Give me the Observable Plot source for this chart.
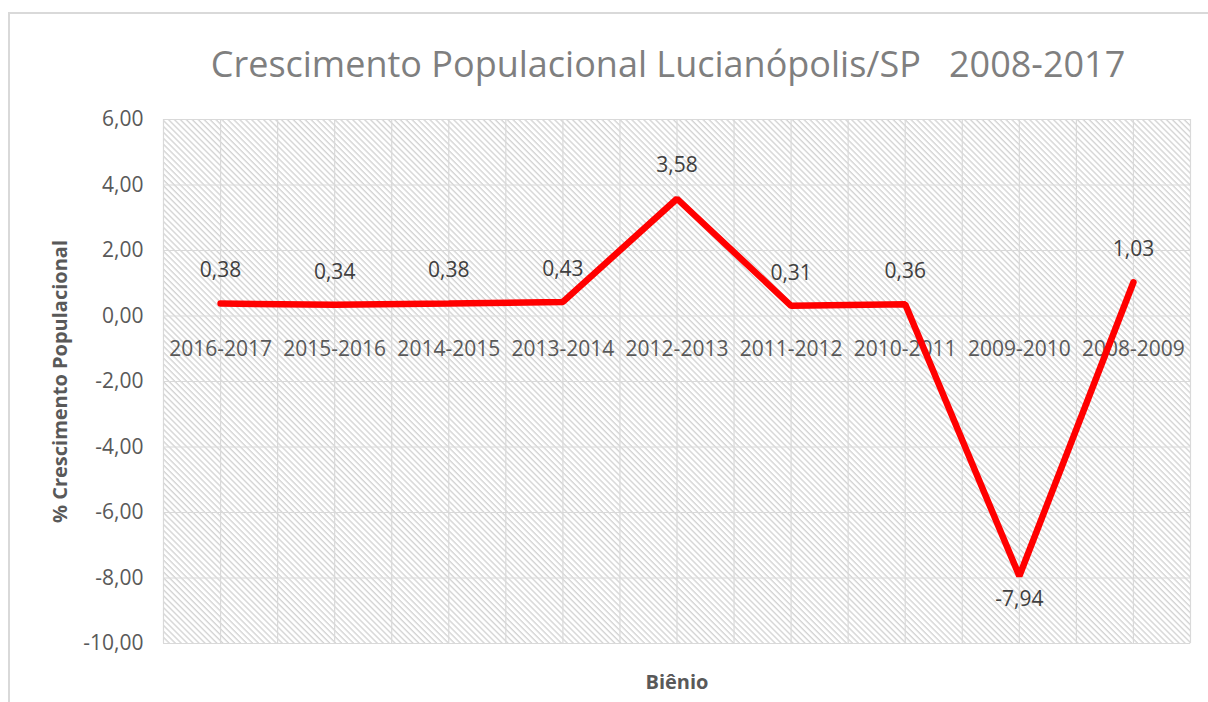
<!DOCTYPE html>
<html>
<head>
<meta charset="utf-8">
<script src="https://cdn.jsdelivr.net/npm/d3@7"></script>
<script src="https://cdn.jsdelivr.net/npm/@observablehq/plot@0.6"></script>
<style>
  html, body { margin: 0; padding: 0; background: #fff; }
  #wrap { position: relative; width: 1208px; height: 702px; overflow: hidden; font-family: "Open Sans", sans-serif; }
  #border { position: absolute; left: 8px; top: 12px; width: 1300px; height: 800px; border: 2px solid #d9d9d9; box-sizing: border-box; }
  #title { position: absolute; left: 0; width: 1336px; top: 38px; text-align: center; font-size: 36px; color: #7f7f7f; white-space: pre; line-height: 52px; }
  #chart { position: absolute; left: 0; top: 0; }
</style>
</head>
<body>
<div id="wrap">
  <div id="border"></div>
  <div id="chart"></div>
  <div id="title">Crescimento Populacional Lucianópolis/SP   2008-2017</div>
</div>
<script>
const categories = ["2016-2017", "2015-2016", "2014-2015", "2013-2014", "2012-2013", "2011-2012", "2010-2011", "2009-2010", "2008-2009"];
const values = [0.38, 0.34, 0.38, 0.43, 3.58, 0.31, 0.36, -7.94, 1.03];
const yTicks = [-10, -8, -6, -4, -2, 0, 2, 4, 6];
const yLabel = "% Crescimento Populacional";
const xLabel = "Biênio";

const data = categories.map((c, i) => ({cat: c, i, v: values[i]}));
const fmt = d => d3.format(".2f")(d).replace(".", ",").replace("−", "-");
const halfSteps = d3.range(-0.5, categories.length, 0.5);
const font = "Open Sans, sans-serif";

const plot = Plot.plot({
  width: 1208,
  height: 702,
  marginTop: 119,
  marginBottom: 59,
  marginLeft: 163,
  marginRight: 18,
  style: {fontFamily: font, background: "transparent", overflow: "visible"},
  x: {type: "linear", domain: [-0.5, categories.length - 0.5], axis: null},
  y: {domain: [-10, 6], axis: null},
  marks: [
    Plot.frame({fill: "url(#hatch)", stroke: null}),
    Plot.ruleY(yTicks, {stroke: "#d9d9d9", strokeWidth: 1.2}),
    Plot.ruleX(halfSteps, {stroke: "#d9d9d9", strokeWidth: 1.2}),
    Plot.axisY(yTicks, {tickSize: 0, tickPadding: 20, tickFormat: fmt, label: null, fill: "#595959", fontSize: 21}),
    Plot.text(data, {x: "i", y: () => 0, dy: 33, text: "cat", fill: "#595959", fontSize: 21}),
    Plot.line(data, {x: "i", y: "v", stroke: "#ff0000", strokeWidth: 6.5, strokeLinejoin: "miter", strokeLinecap: "round"}),
    Plot.text(data.filter(d => d.v >= 0), {x: "i", y: "v", dy: -33, text: d => fmt(d.v), fill: "#404040", fontSize: 21}),
    Plot.text(data.filter(d => d.v < 0), {x: "i", y: "v", dy: 23, text: d => fmt(d.v), fill: "#404040", fontSize: 21}),
    Plot.text([yLabel], {frameAnchor: "left", textAnchor: "middle", rotate: -90, dx: -103, text: d => d, fill: "#595959", fontSize: 20, fontWeight: "bold"}),
    Plot.text([xLabel], {frameAnchor: "bottom", dy: 45, text: d => d, fill: "#595959", fontSize: 20, fontWeight: "bold"})
  ]
});

const ns = "http://www.w3.org/2000/svg";
const defs = document.createElementNS(ns, "defs");
defs.innerHTML = `<pattern id="hatch" width="4.2" height="4.2" patternUnits="userSpaceOnUse" patternTransform="rotate(-45)">
  <rect width="4.2" height="4.2" fill="#ffffff"/>
  <line x1="1" y1="0" x2="1" y2="4.2" stroke="#d4d4d4" stroke-width="1.4"/>
</pattern>`;
plot.insertBefore(defs, plot.firstChild);
document.getElementById("chart").appendChild(plot);
</script>
</body>
</html>
